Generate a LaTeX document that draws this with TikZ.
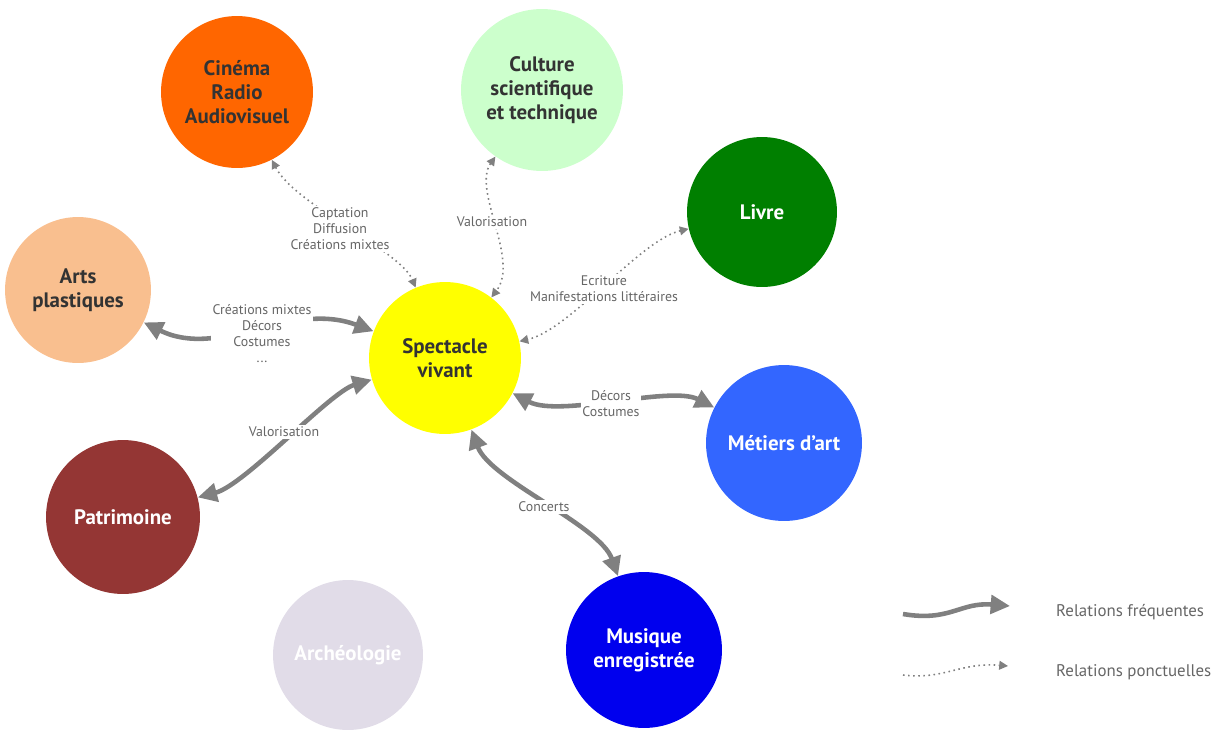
\documentclass[tikz,border=0pt]{standalone}
\usepackage{fontspec}
\setmainfont{PT Sans}
\usetikzlibrary{arrows.meta}
\definecolor{orangecine}{HTML}{FF6600}
\definecolor{vertculture}{HTML}{CCFFCC}
\definecolor{vertlivre}{HTML}{007F00}
\definecolor{peche}{HTML}{F9BF8F}
\definecolor{jaune}{HTML}{FFFF00}
\definecolor{bleumetiers}{HTML}{3366FF}
\definecolor{bordeaux}{HTML}{943634}
\definecolor{lavande}{HTML}{E1DCE8}
\definecolor{bleumusique}{HTML}{0000EE}
\definecolor{gristexte}{HTML}{333333}
\definecolor{grisfleche}{HTML}{808080}
\definecolor{grisetiquette}{HTML}{666666}
\begin{document}
\begin{tikzpicture}[x=0.02cm,y=-0.02cm,
    domaine/.style={circle,minimum size=#1*0.04cm,inner sep=0pt,align=center,
      font=\fontsize{11.9}{13.8}\selectfont\bfseries},
    frequent/.style={draw=grisfleche,line width=2.6pt,
      >={Triangle[length=11pt,width=10.5pt]}},
    ponctuel/.style={draw=grisfleche,line width=0.9pt,dotted,
      >={Triangle[length=5pt,width=5pt]}},
    etiquette/.style={fill=white,text=grisetiquette,align=center,inner sep=1pt,
      font=\fontsize{7.9}{9.1}\selectfont},
    legende/.style={anchor=west,text=grisetiquette,font=\fontsize{9.6}{11}\selectfont}]
    \useasboundingbox (0,0) rectangle (1215,731);
    % Les domaines
    \node[domaine=76,fill=orangecine,text=gristexte] (cine) at (237,92) {Cinéma\\Radio\\Audiovisuel};
    \node[domaine=81,fill=vertculture,text=gristexte] (culture) at (542,90) {Culture\\scientifique\\et technique};
    \node[domaine=75,fill=vertlivre,text=white] (livre) at (762,212) {Livre};
    \node[domaine=73,fill=peche,text=gristexte] (arts) at (78,290) {Arts\\plastiques};
    \node[domaine=76,fill=jaune,text=gristexte] (spectacle) at (445,358) {Spectacle\\vivant};
    \node[domaine=78,fill=bleumetiers,text=white] (metiers) at (784,443) {Métiers d'art};
    \node[domaine=77,fill=bordeaux,text=white] (patrimoine) at (123,517) {Patrimoine};
    \node[domaine=75,fill=lavande,text=white] (archeo) at (348,655) {Archéologie};
    \node[domaine=78,fill=bleumusique,text=white] (musique) at (644,650) {Musique\\enregistrée};
    % Relations ponctuelles
    \draw[ponctuel,<->] (cine) .. controls (295,205) and (400,250) .. (spectacle);
    \draw[ponctuel,<->] (culture) .. controls (472,190) and (520,260) .. (spectacle);
    \draw[ponctuel,<->] (livre) .. controls (640,240) and (570,330) .. (spectacle);
    % Relations fréquentes
    \draw[frequent,<->] (arts) .. controls (220,360) and (290,300) .. (spectacle);
    \draw[frequent,<->] (patrimoine) .. controls (245,485) and (330,392) .. (spectacle);
    \draw[frequent,<->] (spectacle) .. controls (560,418) and (670,385) .. (metiers);
    \draw[frequent,<->] (spectacle) .. controls (490,480) and (600,525) .. (musique);
    % Etiquettes
    \node[etiquette] (lcine) at (340,229) {Captation\\Diffusion\\Créations mixtes};
    \node[etiquette] (lculture) at (492,222) {Valorisation};
    \node[etiquette] (llivre) at (604,289) {Ecriture\\Manifestations littéraires};
    \node[etiquette] (larts) at (262,334) {Créations mixtes\\Décors\\Costumes\\...};
    \node[etiquette] (lpatrimoine) at (284,432) {Valorisation};
    \node[etiquette] (lmetiers) at (611,404) {Décors\\Costumes};
    \node[etiquette] (lmusique) at (544,507) {Concerts};
    % Légende
    \coordinate (fa) at (903,614);
    \coordinate (fb) at (1010,606);
    \coordinate (pa) at (903,675);
    \coordinate (pb) at (1008,666);
    \draw[frequent,->] (fa) .. controls (950,622) and (960,602) .. (fb);
    \draw[ponctuel,->] (pa) .. controls (945,680) and (960,662) .. (pb);
    \node[legende] (lfreq) at (1050,612) {Relations fréquentes};
    \node[legende] (lponct) at (1050,672) {Relations ponctuelles};
\end{tikzpicture}
\end{document}
